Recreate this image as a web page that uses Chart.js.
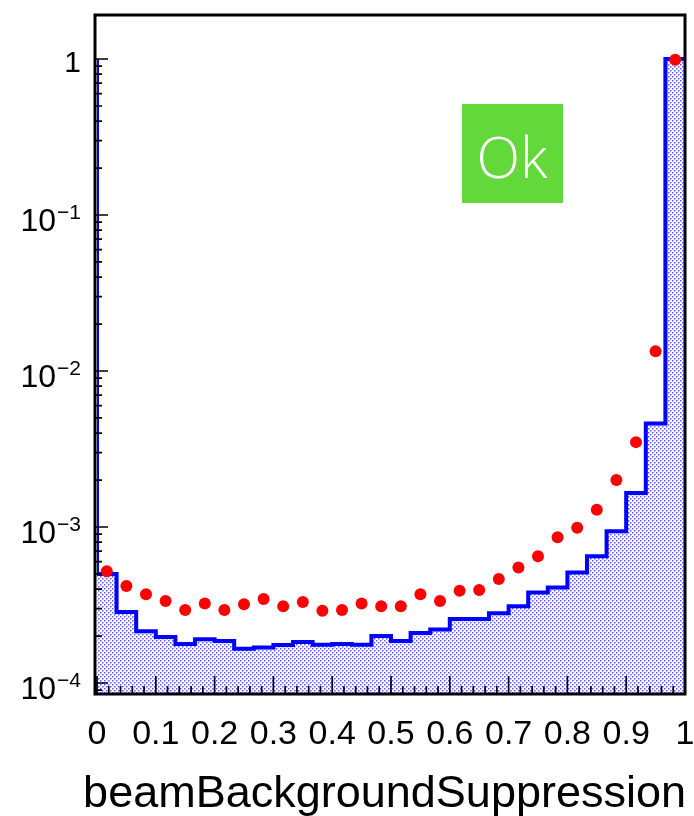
<!DOCTYPE html>
<html>
<head>
<meta charset="utf-8">
<script src="https://cdn.jsdelivr.net/npm/chart.js@4.4.0/dist/chart.umd.min.js"></script>
<style>
  body { margin: 0; background: #fff; }
  canvas { display: block; }
</style>
</head>
<body>
<canvas id="c" width="694" height="816"></canvas>
<script>
// histogram binning (30 equal bins over [0, 1])
const xMin = 0;
const xMax = 1;
const nBins = 30;

// blue filled histogram (normalised)
const mcValues = [
  5.0e-4, 2.85e-4, 2.15e-4, 1.97e-4, 1.78e-4, 1.91e-4, 1.86e-4, 1.66e-4, 1.69e-4, 1.75e-4,
  1.83e-4, 1.76e-4, 1.78e-4, 1.76e-4, 2.0e-4, 1.86e-4, 2.09e-4, 2.2e-4, 2.57e-4, 2.57e-4,
  2.8e-4, 3.1e-4, 3.8e-4, 4.1e-4, 5.1e-4, 6.5e-4, 9.4e-4, 1.65e-3, 4.6e-3, 1.0
];
// value the outline starts from at x = 0 (underflow edge)
const mcUnderflowTop = 1.0;

// red markers
const dataValues = [
  5.2e-4, 4.19e-4, 3.7e-4, 3.36e-4, 2.94e-4, 3.23e-4, 2.94e-4, 3.2e-4, 3.45e-4, 3.1e-4,
  3.3e-4, 2.9e-4, 2.94e-4, 3.23e-4, 3.1e-4, 3.1e-4, 3.7e-4, 3.36e-4, 3.9e-4, 3.95e-4,
  4.64e-4, 5.5e-4, 6.5e-4, 8.6e-4, 9.9e-4, 1.29e-3, 2.0e-3, 3.5e-3, 1.34e-2, 0.99
];

// axes
const yMin = 8.5e-5;
const yMax = 1.915;
const xTickValues = [0, 0.1, 0.2, 0.3, 0.4, 0.5, 0.6, 0.7, 0.8, 0.9, 1];
const xTickLabels = ['0', '0.1', '0.2', '0.3', '0.4', '0.5', '0.6', '0.7', '0.8', '0.9', '1'];
const yTickValues = [1e-4, 1e-3, 1e-2, 1e-1, 1];
const yTickExponents = ['\u22124', '\u22123', '\u22122', '\u22121', null];
const xTitle = 'beamBackgroundSuppression';
const badgeText = 'Ok';

const binW = (xMax - xMin) / nBins;

// outline points of the histogram
const mcOutline = [{ x: xMin, y: mcUnderflowTop }];
mcValues.forEach((v, i) => {
  mcOutline.push({ x: xMin + i * binW, y: v });
  mcOutline.push({ x: xMin + (i + 1) * binW, y: v });
});

const dataPoints = dataValues.map((v, i) => ({ x: xMin + (i + 0.5) * binW, y: v }));

// dotted fill pattern
const pc = document.createElement('canvas');
pc.width = 4; pc.height = 4;
const pg = pc.getContext('2d');
pg.fillStyle = '#ffffff';
pg.fillRect(0, 0, 4, 4);
pg.fillStyle = '#5a5aff';
pg.fillRect(0, 0, 1.5, 1.5);
pg.fillRect(2, 2, 1.5, 1.5);

const ctx = document.getElementById('c').getContext('2d');
const fillPattern = ctx.createPattern(pc, 'repeat');

const FONT = '"Liberation Sans", Arial, Helvetica, sans-serif';

const decorations = {
  id: 'decorations',
  afterDatasetsDraw(chart) {
    const c = chart.ctx;
    const a = chart.chartArea;
    const xs = chart.scales.x;
    const ys = chart.scales.y;
    c.save();

    // ticks
    c.strokeStyle = '#000';
    c.lineWidth = 1.7;
    c.beginPath();
    for (let i = 0; i <= 50; i++) {
      const v = i * 0.02;
      const px = xs.getPixelForValue(v);
      const len = (i % 5 === 0) ? 18 : 8;
      c.moveTo(px, a.bottom);
      c.lineTo(px, a.bottom - len);
    }
    for (let e = -5; e <= 0; e++) {
      for (let m = 1; m <= 9; m++) {
        const v = m * Math.pow(10, e);
        if (v < yMin || v > yMax) continue;
        const py = ys.getPixelForValue(v);
        const len = (m === 1) ? 13 : 7;
        c.moveTo(a.left - 2, py);
        c.lineTo(a.left - 2 + len, py);
      }
    }
    c.stroke();

    // frame
    c.lineWidth = 3;
    c.strokeRect(a.left - 2, a.top, a.right - a.left + 2, a.bottom - a.top);

    // x labels
    c.fillStyle = '#000';
    c.textAlign = 'center';
    c.textBaseline = 'alphabetic';
    c.font = '34px ' + FONT;
    xTickValues.forEach((v, i) => {
      c.fillText(xTickLabels[i], xs.getPixelForValue(v), 744);
    });

    // y labels
    const R = 81;
    yTickValues.forEach((v, i) => {
      const py = ys.getPixelForValue(v);
      const ex = yTickExponents[i];
      c.textAlign = 'right';
      if (ex === null) {
        c.font = '30px ' + FONT;
        c.fillText('1', R, py + 13);
      } else {
        c.font = '21px ' + FONT;
        const ws = c.measureText(ex).width;
        c.fillText(ex, R, py + 4);
        c.font = '32px ' + FONT;
        c.fillText('10', R - ws - 1, py + 16);
      }
    });

    // axis title
    c.textAlign = 'right';
    c.font = '45px ' + FONT;
    c.fillText(xTitle, 686, 807);

    // status badge
    c.fillStyle = '#62d83a';
    c.fillRect(462, 104, 101, 99);
    c.fillStyle = '#ffffff';
    c.textAlign = 'center';
    c.font = '300 57px "Open Sans", "Noto Sans", sans-serif';
    c.fillText(badgeText, 512, 178);

    c.restore();
  }
};

new Chart(ctx, {
  type: 'line',
  data: {
    datasets: [
      {
        label: 'data',
        data: dataPoints,
        showLine: false,
        pointRadius: 6,
        pointBackgroundColor: '#ff0000',
        pointBorderWidth: 0,
        order: 0
      },
      {
        label: 'mc',
        data: mcOutline,
        borderColor: '#0000ff',
        borderWidth: 4,
        backgroundColor: fillPattern,
        fill: 'start',
        pointRadius: 0,
        tension: 0,
        order: 1
      }
    ]
  },
  options: {
    responsive: false,
    animation: false,
    layout: { padding: { left: 97, right: 9, top: 15, bottom: 122 } },
    plugins: {
      legend: { display: false },
      tooltip: { enabled: false }
    },
    scales: {
      x: { type: 'linear', min: xMin, max: xMax, display: false },
      y: { type: 'logarithmic', min: yMin, max: yMax, display: false }
    }
  },
  plugins: [decorations]
});
</script>
</body>
</html>
